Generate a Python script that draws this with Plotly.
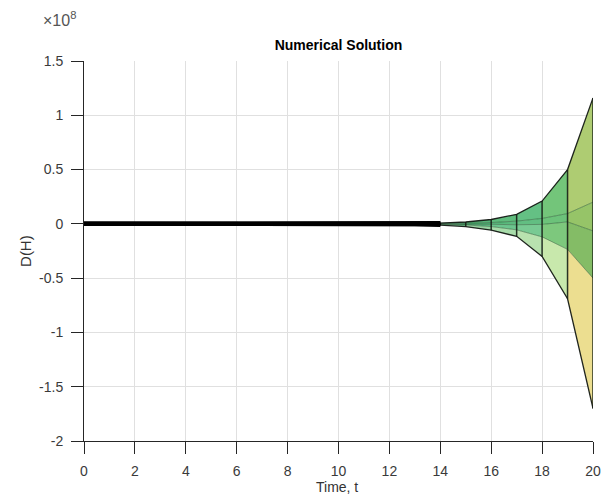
import plotly.graph_objects as go

# ---------------- data (D(H) values in units of 1e8) ----------------
t = list(range(0, 21))
zeros13 = [0.0] * 13
curve_1 = zeros13 + [0.003, 0.007, 0.017, 0.040, 0.088, 0.210, 0.500, 1.160]
curve_2 = zeros13 + [0.001, 0.003, 0.006, 0.012, 0.025, 0.050, 0.095, 0.200]
curve_3 = zeros13 + [0.000, 0.000, -0.002, -0.004, -0.008, -0.005, 0.018, -0.065]
curve_4 = zeros13 + [-0.001, -0.004, -0.010, -0.025, -0.055, -0.120, -0.235, -0.500]
curve_5 = zeros13 + [-0.004, -0.011, -0.025, -0.058, -0.115, -0.300, -0.690, -1.700]
curves = [curve_1, curve_2, curve_3, curve_4, curve_5]

x_ticks = list(range(0, 21, 2))
x_tick_labels = [str(v) for v in x_ticks]
y_ticks = [1.5, 1, 0.5, 0, -0.5, -1, -1.5, -2]
y_tick_labels = ["1.5", "1", "0.5", "0", "-0.5", "-1", "-1.5", "-2"]

# ---------------- styles ----------------
band_colors = {
    0: {14: (70, 165, 110), 15: (85, 180, 120), 16: (95, 188, 125), 17: (100, 192, 132), 18: (115, 197, 122), 19: (174, 204, 114)},
    1: {14: (70, 165, 110), 15: (80, 178, 118), 16: (90, 185, 125), 17: (98, 190, 130), 18: (108, 194, 122), 19: (150, 196, 104)},
    2: {14: (75, 170, 115), 15: (92, 186, 132), 16: (108, 197, 142), 17: (120, 202, 147), 18: (125, 200, 125), 19: (132, 188, 102)},
    3: {14: (120, 200, 150), 15: (152, 212, 162), 16: (168, 220, 170), 17: (184, 226, 175), 18: (200, 232, 172), 19: (236, 222, 144)},
}
default_face = (80, 175, 120)
FONT = "Liberation Sans, Arial, sans-serif"
FIG_W, FIG_H = 603, 499

fig = go.Figure()

# faces of the surface (projection of each quad)
for b in range(len(curves) - 1):
    ca, cb = curves[b], curves[b + 1]
    for i in range(len(t) - 1):
        col = band_colors[b].get(i, default_face)
        fig.add_trace(go.Scatter(
            x=[t[i], t[i + 1], t[i + 1], t[i], t[i]],
            y=[ca[i], ca[i + 1], cb[i + 1], cb[i], ca[i]],
            mode="lines", fill="toself",
            fillcolor="rgb(%d,%d,%d)" % col,
            line=dict(width=0), hoverinfo="skip", showlegend=False))

# inner mesh lines
for c in curves[1:-1]:
    fig.add_trace(go.Scatter(x=t, y=c, mode="lines",
                             line=dict(color="rgba(30,80,40,0.5)", width=1),
                             hoverinfo="skip", showlegend=False))

# vertical mesh edges at every time step
for i, ti in enumerate(t):
    vals = [c[i] for c in curves]
    fig.add_trace(go.Scatter(x=[ti, ti], y=[min(vals), max(vals)], mode="lines",
                             line=dict(color="rgba(20,30,20,0.9)", width=1.5),
                             hoverinfo="skip", showlegend=False))

# outer envelope lines
for c in (curves[0], curves[-1]):
    fig.add_trace(go.Scatter(x=t, y=c, mode="lines",
                             line=dict(color="rgba(20,25,20,0.95)", width=1.3),
                             hoverinfo="skip", showlegend=False))

# stacked edges where all rows coincide (thick black band)
for c in curves:
    fig.add_trace(go.Scatter(x=t[:15], y=c[:15], mode="lines",
                             line=dict(color="black", width=4),
                             hoverinfo="skip", showlegend=False))

axis_common = dict(
    showline=True, linecolor="#262626", linewidth=1,
    ticks="outside", ticklen=12, tickwidth=1, tickcolor="#262626",
    showgrid=True, gridcolor="#e0e0e0", gridwidth=1,
    zeroline=False, mirror=False, automargin=False,
    tickfont=dict(family=FONT, size=14, color="#3a3a3a"),
)

fig.update_layout(
    width=FIG_W, height=FIG_H,
    paper_bgcolor="white", plot_bgcolor="white",
    margin=dict(l=84, r=10, t=61, b=58, autoexpand=False),
    title=dict(text="<b>Numerical Solution</b>", x=0.5, xref="paper",
               y=1 - 45 / FIG_H, yref="container",
               yanchor="middle", xanchor="center",
               font=dict(family=FONT, size=14, color="black")),
    xaxis=dict(range=[0, 20], tickvals=x_ticks, ticktext=x_tick_labels,
               ticklabelstandoff=5, **axis_common),
    yaxis=dict(range=[-2, 1.5], tickvals=y_ticks, ticktext=y_tick_labels,
               ticklabelstandoff=5, **axis_common),
    showlegend=False,
    annotations=[
        dict(text="×10<sup>8</sup>", x=-0.084, y=1.11, xref="paper", yref="paper",
             xanchor="left", yanchor="middle", showarrow=False,
             font=dict(family=FONT, size=16, color="#555555")),
        dict(text="Time, t", x=0.497, y=-0.121, xref="paper", yref="paper",
             xanchor="center", yanchor="middle", showarrow=False,
             font=dict(family=FONT, size=14, color="#333333")),
        dict(text="D(H)", x=-0.116, y=0.5, xref="paper", yref="paper",
             xanchor="center", yanchor="middle", showarrow=False, textangle=-90,
             font=dict(family=FONT, size=15, color="#333333")),
    ],
)

fig.write_html(
    "out.html",
    config={"displayModeBar": False},
    post_script="document.body.style.margin='0';document.body.style.overflow='hidden';",
)
